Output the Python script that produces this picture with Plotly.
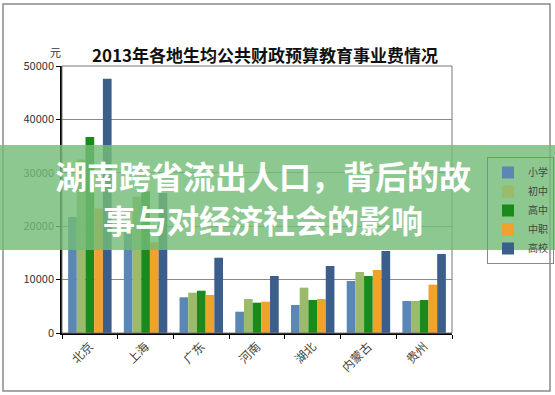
import plotly.graph_objects as go

categories = ["北京", "上海", "广东", "河南", "湖北", "内蒙古", "贵州"]
series_names = ["小学", "初中", "高中", "中职", "高校"]
xiaoxue = [21700, 19300, 6690, 3990, 5240, 9740, 5990]
chuzhong = [32500, 25500, 7550, 6370, 8490, 11420, 5990]
gaozhong = [36700, 26500, 7920, 5680, 6180, 10670, 6180]
zhongzhi = [23300, 17000, 7120, 5870, 6370, 11800, 9050]
gaoxiao = [47600, 26200, 14100, 10670, 12550, 15360, 14790]
values = [xiaoxue, chuzhong, gaozhong, zhongzhi, gaoxiao]
colors = ["#5A87B5", "#9BBB6A", "#1A8A1A", "#F0A22A", "#3C5E8A"]
y_ticks = [0, 10000, 20000, 30000, 40000, 50000]
y_tick_labels = ["0", "10000", "20000", "30000", "40000", "50000"]

fig = go.Figure()
for name, vals, c in zip(series_names, values, colors):
    fig.add_trace(go.Bar(name=name, x=categories, y=vals, marker=dict(color=c, line=dict(width=0))))

W, H = 555, 395
L, T, B = 62, 66, 333
PR = 452  # plot right edge in pixels
PW = W - L  # paper width (right margin 0)
def px(x):
    return (x - L) / PW
def py(y):
    return (B - y) / (B - T)

font = "Noto Sans CJK SC, Liberation Sans, sans-serif"

shapes = [
    dict(type="rect", xref="paper", yref="paper", x0=px(3), x1=px(550), y0=py(391), y1=py(4),
         line=dict(color="#8a8a8a", width=1.5), layer="below"),
    dict(type="rect", xref="paper", yref="paper", x0=0, x1=px(PR), y0=0, y1=1,
         line=dict(color="#777", width=1), layer="above"),
    dict(type="rect", xref="paper", yref="paper", x0=px(0), x1=px(555), y0=py(250), y1=py(145),
         fillcolor="rgba(115,188,120,0.82)", line=dict(width=0), layer="above"),
]

annotations = [
    dict(text="<b>2013年各地生均公共财政预算教育事业费情况</b>", xref="paper", yref="paper",
         x=px(265), y=py(40), showarrow=False, font=dict(size=17, color="#111", family=font)),
    dict(text="元", xref="paper", yref="paper", x=px(48), y=py(42), showarrow=False,
         font=dict(size=11, color="#333", family=font)),
    dict(text="<b>湖南跨省流出人口，背后的故</b>", xref="paper", yref="paper", x=px(263), y=py(175),
         showarrow=False, font=dict(size=32, color="white", family=font)),
    dict(text="<b>事与对经济社会的影响</b>", xref="paper", yref="paper", x=px(263), y=py(219),
         showarrow=False, font=dict(size=32, color="white", family=font)),
]

fig.update_layout(
    width=W, height=H,
    margin=dict(l=L, r=0, t=T, b=H - B),
    paper_bgcolor="white", plot_bgcolor="white",
    barmode="group", bargap=0.22, bargroupgap=0,
    font=dict(family=font, size=11, color="#333"),
    showlegend=True,
    legend=dict(x=px(487), y=py(157), xanchor="left", yanchor="top",
                bordercolor="#888", borderwidth=1, bgcolor="rgba(255,255,255,0)",
                font=dict(size=10, color="#444"), itemwidth=30, tracegroupgap=0),
    shapes=shapes, annotations=annotations,
)
fig.update_xaxes(type="category", domain=[0, px(PR)], showline=True, linecolor="black", linewidth=1.5,
                 ticks="outside", tickson="boundaries", ticklen=4, tickcolor="black",
                 tickangle=-45, tickfont=dict(size=12, color="#444"), showgrid=False)
fig.update_yaxes(range=[0, 50000], tickvals=y_ticks, ticktext=y_tick_labels, showline=True,
                 linecolor="black", linewidth=1.5,
                 ticks="outside", ticklen=4, tickcolor="black", gridcolor="#888", gridwidth=1,
                 tickfont=dict(size=11, color="#333"), zeroline=False)

fig.write_html("out.html")
